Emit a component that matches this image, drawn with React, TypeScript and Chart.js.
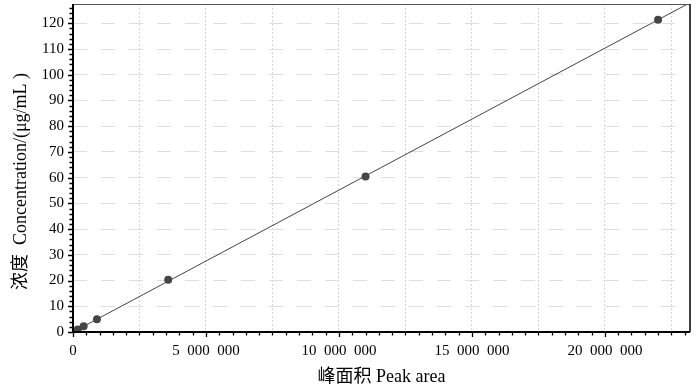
import React, { useEffect, useRef } from "react";
import { Chart, registerables } from "chart.js";

Chart.register(...registerables);

const pointX = [60000, 180000, 400000, 900000, 3580000, 11000000, 22000000];
const pointY = [0.3, 1.0, 2.2, 5.0, 20.3, 60.4, 121.4];
const fitX = [0, 23200000];
const fitY = [0, 128.0];
const xMax = 23200000;
const yMax = 127.5;
const xGridStep = 2500000;
const xLabelStep = 5000000;
const xMinorStep = 500000;
const yLabelStep = 10;
const yMinorStep = 2;
const xTitle = "峰面积 Peak area";
const yTitle = "浓度  Concentration/(μg/mL )\u2003\u2002";

const FONT = "'Liberation Serif', 'Times New Roman', 'Noto Sans CJK SC', serif";

function isMult(v: number, step: number): boolean {
  const r = v / step;
  return Math.abs(r - Math.round(r)) < 1e-6;
}

function fmtX(v: number): string {
  const s = Math.round(v).toString();
  return s.replace(/\B(?=(\d{3})+(?!\d))/g, "\u2002");
}

const framePlugin = {
  id: "frame",
  afterDatasetsDraw(chart: any) {
    const { ctx, chartArea } = chart;
    const { left, right, top, bottom } = chartArea;
    const xs = chart.scales.x;
    const ys = chart.scales.y;
    ctx.save();
    ctx.strokeStyle = "#000";
    ctx.lineWidth = 1.3;
    ctx.beginPath();
    for (let k = 0; k * xMinorStep <= xMax; k++) {
      const v = k * xMinorStep;
      const px = Math.round(xs.getPixelForValue(v)) + 0.5;
      const len = isMult(v, xLabelStep) ? 5 : 3.5;
      ctx.moveTo(px, bottom);
      ctx.lineTo(px, bottom + len);
    }
    for (let k = 0; k * yMinorStep <= yMax; k++) {
      const v = k * yMinorStep;
      const py = Math.round(ys.getPixelForValue(v)) + 0.5;
      const len = isMult(v, yLabelStep) ? 5 : 3.5;
      ctx.moveTo(left, py);
      ctx.lineTo(left - len, py);
    }
    ctx.stroke();
    ctx.lineWidth = 1;
    ctx.strokeStyle = "#555";
    ctx.beginPath();
    ctx.moveTo(left, top + 0.5);
    ctx.lineTo(right, top + 0.5);
    ctx.stroke();
    ctx.strokeStyle = "#000";
    ctx.lineWidth = 1.5;
    ctx.beginPath();
    ctx.moveTo(right, top);
    ctx.lineTo(right, bottom);
    ctx.stroke();
    ctx.lineWidth = 2;
    ctx.beginPath();
    ctx.moveTo(left, top);
    ctx.lineTo(left, bottom);
    ctx.lineTo(right, bottom);
    ctx.stroke();
    ctx.restore();
  },
};

export default function App() {
  const ref = useRef<HTMLCanvasElement | null>(null);
  useEffect(() => {
    document.body.style.margin = "0";
    const canvas = ref.current;
    if (!canvas) return;
    const chart = new Chart(canvas, {
      type: "scatter",
      data: {
        datasets: [
          {
            label: "fit",
            data: fitX.map((x, i) => ({ x, y: fitY[i] })),
            showLine: true,
            borderColor: "#444",
            borderWidth: 1,
            pointRadius: 0,
            order: 2,
          },
          {
            label: "points",
            data: pointX.map((x, i) => ({ x, y: pointY[i] })),
            backgroundColor: "#464646",
            borderColor: "#464646",
            pointRadius: 4,
            borderWidth: 0,
            order: 1,
          },
        ],
      },
      options: {
        animation: false,
        responsive: false,
        maintainAspectRatio: false,
        layout: { padding: { top: 4, right: 10, left: 0, bottom: 0 } },
        plugins: { legend: { display: false }, tooltip: { enabled: false } },
        scales: {
          x: {
            type: "linear",
            min: 0,
            max: xMax,
            afterBuildTicks: (s: any) => {
              const t: any[] = [];
              for (let k = 0; k * xGridStep <= xMax; k++) t.push({ value: k * xGridStep });
              s.ticks = t;
            },
            afterFit: (s: any) => {
              s.height = 56;
            },
            border: { display: false, dash: [2, 2] },
            grid: {
              color: (c: any) => (c.tick && c.tick.value > 0 ? "#d6d6d6" : "transparent"),
              tickColor: "transparent",
              tickLength: 5,
              lineWidth: 1,
            },
            ticks: {
              autoSkip: false,
              maxRotation: 0,
              padding: 5,
              color: "#000",
              font: { family: FONT, size: 15 },
              callback: (v: any) => (isMult(Number(v), xLabelStep) ? fmtX(Number(v)) : ""),
            },
            title: {
              display: true,
              text: xTitle,
              color: "#000",
              font: { family: FONT, size: 18 },
              padding: { top: 0, bottom: 0 },
            },
          },
          y: {
            type: "linear",
            min: 0,
            max: yMax,
            afterBuildTicks: (s: any) => {
              const t: any[] = [];
              for (let k = 0; k * yLabelStep <= yMax; k++) t.push({ value: k * yLabelStep });
              s.ticks = t;
            },
            afterFit: (s: any) => {
              s.width = 73;
              s.paddingTop = 0;
            },
            border: { display: false, dash: [14, 14] },
            grid: {
              color: (c: any) => (c.tick && c.tick.value > 0 ? "#dedede" : "transparent"),
              tickColor: "transparent",
              tickLength: 5,
              lineWidth: 1,
            },
            ticks: {
              autoSkip: false,
              padding: 4,
              color: "#000",
              font: { family: FONT, size: 15 },
              callback: (v: any) => String(Math.round(Number(v))),
            },
            title: {
              display: true,
              text: yTitle,
              color: "#000",
              font: { family: FONT, size: 18 },
              padding: { top: 10, bottom: 4 },
            },
          },
        },
      } as any,
      plugins: [framePlugin],
    });
    return () => chart.destroy();
  }, []);
  return (
    <div style={{ position: "fixed", left: 0, top: 0, width: 700, height: 388, background: "#fff" }}>
      <canvas ref={ref} width={700} height={388} style={{ width: 700, height: 388 }} />
    </div>
  );
}
